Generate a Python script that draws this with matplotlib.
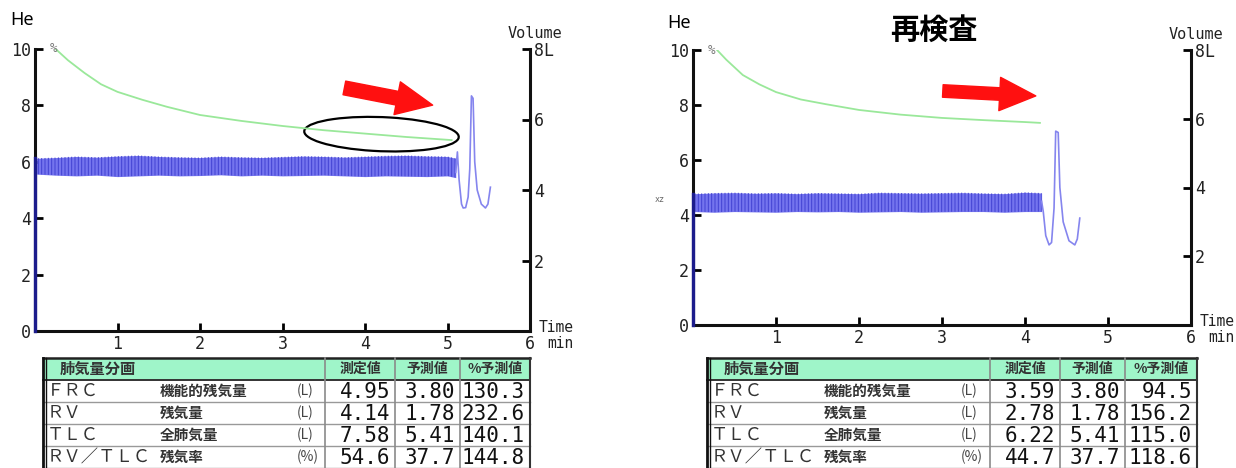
import matplotlib
matplotlib.use("Agg")
import matplotlib.pyplot as plt
from matplotlib.patches import Ellipse, Rectangle

plt.rcParams['font.family'] = ['DejaVu Sans Mono', 'Noto Sans CJK JP']
plt.rcParams['hatch.linewidth'] = 0.7

# He washout curve (%), left axis
he1Time = [0.25, 0.4, 0.6, 0.8, 1.0, 1.3, 1.6, 2.0, 2.5, 3.0, 3.5, 4.0, 4.5, 5.05]
he1Pct = [10.0, 9.6, 9.15, 8.75, 8.48, 8.2, 7.95, 7.66, 7.45, 7.27, 7.12, 7.0, 6.88, 6.77]
he2Time = [0.29, 0.4, 0.6, 0.8, 1.0, 1.3, 1.6, 2.0, 2.5, 3.0, 3.5, 4.0, 4.18]
he2Pct = [10.0, 9.65, 9.09, 8.75, 8.47, 8.2, 8.03, 7.82, 7.65, 7.53, 7.45, 7.38, 7.35]

# tidal breathing band (L), right axis: upper / lower envelope
band1Time = [0.02, 0.25, 0.5, 0.75, 1.0, 1.25, 1.5, 1.75, 2.0, 2.25, 2.5,
             2.75, 3.0, 3.25, 3.5, 3.75, 4.0, 4.25, 4.5, 4.75, 5.0, 5.1]
band1Hi = [4.9, 4.92, 4.95, 4.93, 4.96, 4.98, 4.95, 4.93, 4.92, 4.95, 4.93,
           4.92, 4.94, 4.96, 4.95, 4.93, 4.95, 4.97, 4.98, 4.96, 4.95, 4.9]
band1Lo = [4.45, 4.42, 4.4, 4.42, 4.38, 4.4, 4.42, 4.4, 4.41, 4.43, 4.4,
           4.42, 4.4, 4.41, 4.42, 4.4, 4.38, 4.4, 4.39, 4.38, 4.4, 4.35]
band2Time = [0.02, 0.25, 0.5, 0.75, 1.0, 1.25, 1.5, 1.75, 2.0, 2.25, 2.5,
             2.75, 3.0, 3.25, 3.5, 3.75, 4.0, 4.2]
band2Hi = [3.82, 3.84, 3.85, 3.83, 3.84, 3.82, 3.84, 3.83, 3.82, 3.85, 3.84,
           3.83, 3.84, 3.85, 3.83, 3.82, 3.86, 3.84]
band2Lo = [3.3, 3.28, 3.3, 3.29, 3.28, 3.3, 3.29, 3.3, 3.28, 3.29, 3.3,
           3.28, 3.29, 3.3, 3.3, 3.28, 3.3, 3.3]

# maximal expiration / inspiration at the end (L)
tail1Time = [5.10, 5.12, 5.14, 5.17, 5.19, 5.22, 5.25, 5.27, 5.29, 5.31, 5.33,
             5.36, 5.41, 5.46, 5.49, 5.52]
tail1Vol = [4.5, 5.08, 4.3, 3.6, 3.49, 3.5, 3.8, 4.6, 6.67, 6.6, 4.8,
            4.0, 3.6, 3.49, 3.6, 4.08]
tail2Time = [4.20, 4.22, 4.25, 4.29, 4.32, 4.35, 4.37, 4.40, 4.42, 4.46, 4.53,
             4.60, 4.63, 4.66]
tail2Vol = [3.6, 3.3, 2.6, 2.33, 2.4, 3.4, 5.64, 5.6, 4.0, 3.0, 2.45,
            2.33, 2.5, 3.11]

# table
headers = ['肺気量分画', '測定値', '予測値', '%予測値']
rowCodes = ['ＦＲＣ', 'ＲＶ', 'ＴＬＣ', 'ＲＶ／ＴＬＣ']
rowNames = ['機能的残気量', '残気量', '全肺気量', '残気率']
rowUnits = ['(L)', '(L)', '(L)', '(%)']
measured1 = [4.95, 4.14, 7.58, 54.6]
measured2 = [3.59, 2.78, 6.22, 44.7]
predicted = [3.80, 1.78, 5.41, 37.7]
pctPred1 = [130.3, 232.6, 140.1, 144.8]
pctPred2 = [94.5, 156.2, 115.0, 118.6]

W, H = 1236, 468
fig = plt.figure(figsize=(W / 100, H / 100), dpi=100)
ink = '#222222'


def pxAxes(x0, x1, yTop, yBottom):
    return fig.add_axes([x0 / W, 1 - yBottom / H, (x1 - x0) / W, (yBottom - yTop) / H])


def drawPanel(ax, heTime, hePct, bandTime, bandLo, bandHi, tailTime, tailVol):
    ax.set_xlim(0, 6)
    ax.set_ylim(0, 10)
    vol = ax.twinx()
    vol.set_ylim(0, 8)
    for a in (ax, vol):
        a.spines['top'].set_visible(False)
        for s in a.spines.values():
            s.set_linewidth(2.2)
            s.set_color('#111111')
        a.tick_params(direction='in', length=6, width=2, labelsize=12,
                      labelcolor=ink, pad=3)
    ax.spines['right'].set_visible(False)
    vol.spines['left'].set_visible(False)
    vol.spines['bottom'].set_visible(False)

    ax.set_xticks([1, 2, 3, 4, 5, 6])
    ax.set_xticklabels(['1', '2', '3', '4', '5', '6'])
    ax.set_yticks([0, 2, 4, 6, 8, 10])
    ax.set_yticklabels(['0', '2', '4', '6', '8', '10'])
    vol.set_yticks([2, 4, 6, 8])
    vol.set_yticklabels(['2', '4', '6', '8L'])

    ax.plot(heTime, hePct, color='#9ae89a', lw=1.3)
    vol.fill_between(bandTime, bandLo, bandHi, color='#7474ee', lw=0)
    vol.fill_between(bandTime, bandLo, bandHi, facecolor='none',
                     edgecolor='#4242d2', hatch='|||||', lw=0)
    vol.plot([0, 0], [0, bandHi[0]], color='#1c1c8c', lw=2.4, clip_on=False)
    vol.plot(tailTime, tailVol, color='#8585ee', lw=1.2)

    ax.text(0.03, 1.0, '%', transform=ax.transAxes, fontsize=9, color='#777777',
            va='center', ha='left')
    ax.text(0.955, 1.055, 'Volume', transform=ax.transAxes, fontsize=11,
            color=ink, va='center', ha='left')
    ax.text(1.018, 0.012, 'Time', transform=ax.transAxes, fontsize=10.5,
            color=ink, va='center', ha='left')
    ax.text(1.034, -0.045, 'min', transform=ax.transAxes, fontsize=10.5,
            color=ink, va='center', ha='left')
    return vol


def drawTable(ov, x0, x1, seps, measured, pctPred):
    top, headBottom, rowH = 358, 380, 22
    ov.add_patch(Rectangle((x0, top), x1 - x0, headBottom - top,
                           facecolor='#9ff5c9', edgecolor='none'))
    ov.plot([x0, x1], [top, top], color='#222222', lw=1.8)
    ov.plot([x0, x1], [headBottom, headBottom], color='#333333', lw=1.4)
    for i in range(1, 5):
        y = headBottom + i * rowH
        ov.plot([x0, x1], [y, y], color='#999999', lw=1.0)
    ov.plot([x0, x0], [top, H], color='#111111', lw=2.0)
    ov.plot([x0 + 3, x0 + 3], [top, H], color='#111111', lw=1.0)
    ov.plot([x1, x1], [top, H], color='#333333', lw=1.5)
    for s in seps:
        ov.plot([s, s], [top, H], color='#8a8a8a', lw=1.2)

    cy = (top + headBottom) / 2
    ov.text(x0 + 17, cy, headers[0], fontsize=11, fontweight='bold',
            family='Noto Sans CJK JP', color='#333333', va='center', ha='left')
    edges = list(seps) + [x1]
    for j in range(3):
        ov.text((edges[j] + edges[j + 1]) / 2, cy, headers[j + 1], fontsize=10,
                fontweight='bold', family='Noto Sans CJK JP', color='#333333',
                va='center', ha='center')

    for i in range(4):
        y = headBottom + (i + 0.5) * rowH
        ov.text(x0 + 4, y, rowCodes[i], fontsize=12.5, family='Noto Sans CJK JP',
                color='#333333', va='center', ha='left')
        ov.text(x0 + 117, y, rowNames[i], fontsize=10.5, family='Noto Sans CJK JP',
                fontweight='bold', color='#333333', va='center', ha='left')
        ov.text(x0 + 254, y, rowUnits[i], fontsize=10, family='Noto Sans CJK JP',
                color='#444444', va='center', ha='left')
        fmt = '{:.2f}' if rowUnits[i] == '(L)' else '{:.1f}'
        vals = [fmt.format(measured[i]), fmt.format(predicted[i]),
                '{:.1f}'.format(pctPred[i])]
        for j in range(3):
            ov.text(edges[j + 1] - 5, y + 1, vals[j], fontsize=15, color='#111111',
                    va='center', ha='right')


ax1 = pxAxes(35, 530, 49, 331)
drawPanel(ax1, he1Time, he1Pct, band1Time, band1Lo, band1Hi, tail1Time, tail1Vol)
ax1.add_patch(Ellipse((4.2, 6.98), 1.89, 1.2, angle=-10, fill=False,
                      edgecolor='black', lw=1.6))
ax1.annotate('', xy=(4.82, 8.01), xytext=(3.75, 8.62),
             arrowprops=dict(arrowstyle='simple,head_length=2.6,head_width=2.4,tail_width=1.0',
                             color='#ff1010', mutation_scale=10, shrinkA=0, shrinkB=0))

ax2 = pxAxes(693, 1191, 50, 325)
drawPanel(ax2, he2Time, he2Pct, band2Time, band2Lo, band2Hi, tail2Time, tail2Vol)
ax2.annotate('', xy=(4.13, 8.33), xytext=(3.01, 8.51),
             arrowprops=dict(arrowstyle='simple,head_length=2.6,head_width=2.4,tail_width=0.9',
                             color='#ff1010', mutation_scale=10, shrinkA=0, shrinkB=0))

ov = fig.add_axes([0, 0, 1, 1])
ov.set_xlim(0, W)
ov.set_ylim(H, 0)
ov.axis('off')
ov.text(10, 20, 'He', fontsize=13, family='Noto Sans', color='black', va='center')
ov.text(667, 23, 'He', fontsize=13, family='Noto Sans', color='black', va='center')
ov.text(934, 30, '再検査', fontsize=21, family='Noto Sans CJK JP', fontweight='bold',
        color='black', va='center', ha='center')
ov.text(660, 199, 'xz', fontsize=6, color='#666666', va='center', ha='center')

drawTable(ov, 43, 530, [325, 395, 460], measured1, pctPred1)
drawTable(ov, 707, 1197, [990, 1060, 1125], measured2, pctPred2)

fig.savefig('out.png', dpi=100)
